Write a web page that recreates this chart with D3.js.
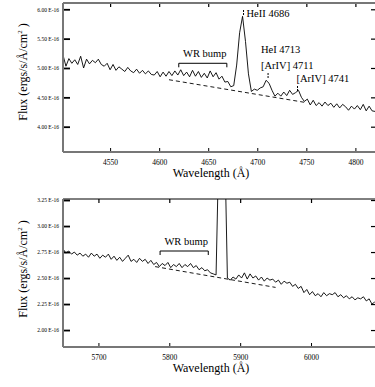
<!DOCTYPE html>
<html><head><meta charset="utf-8">
<script src="https://cdn.jsdelivr.net/npm/d3@7"></script>
<style>
html,body{margin:0;padding:0;background:#fff;}
svg{display:block;}
text{font-family:"Liberation Serif","Times New Roman",serif;fill:#000;}
</style></head>
<body>
<svg id="chart" width="375" height="387"></svg>
<script>
// ---------- DATA ----------
// Top panel: flux (1e-16 ergs/s/A/cm^2) sampled every 3 A starting at 4502 A
const topStart = 4502, topStep = 3;
const topFlux = [
 5.22,5.03,5.16,5.08,5.14,5.06,5.20,5.00,5.15,5.07,5.13,5.09,5.15,5.06,5.03,5.08,4.97,5.06,4.96,5.02,
 4.98,4.94,5.01,4.95,4.92,4.98,4.91,4.96,4.90,4.95,4.89,4.88,4.94,4.85,4.93,4.86,4.94,4.87,4.95,4.88,
 4.97,4.87,4.93,4.85,4.96,4.86,4.94,4.84,4.91,4.83,4.95,4.85,4.92,4.81,4.86,4.76,4.77,4.68,4.70,5.05,
 5.60,5.88,5.45,4.90,4.60,4.64,4.62,4.66,4.68,4.79,4.74,4.62,4.52,4.57,4.52,4.59,4.53,4.62,4.55,4.58,
 4.62,4.50,4.43,4.47,4.37,4.45,4.36,4.41,4.35,4.42,4.36,4.40,4.33,4.39,4.32,4.38,4.34,4.28,4.35,4.30,
 4.36,4.29,4.38,4.27,4.35,4.27,4.26
];
const topContinuum = [[4610, 4.80], [4750, 4.41]];
const topXTicks = [4550, 4600, 4650, 4700, 4750, 4800];
const topYTicks = [4.00, 4.50, 5.00, 5.50, 6.00];
const topLines = [
  {label: "HeII 4686", wl: 4686},
  {label: "HeI 4713", wl: null},
  {label: "[ArIV] 4711", wl: 4711},
  {label: "[ArIV] 4741", wl: 4741}
];
const topBump = [4620, 4669];

// Bottom panel: flux sampled every 4 A starting at 5650 A
const botStart = 5650, botStep = 4;
const botFlux = [
 2.78,2.74,2.76,2.73,2.75,2.72,2.74,2.71,2.73,2.70,2.74,2.71,2.73,2.69,2.72,2.70,2.73,2.68,2.71,2.67,
 2.70,2.66,2.69,2.72,2.66,2.68,2.65,2.69,2.66,2.68,2.64,2.67,2.63,2.65,2.61,2.64,2.62,2.65,2.60,2.63,
 2.61,2.64,2.60,2.63,2.61,2.64,2.60,2.62,2.58,2.60,2.57,2.58,2.55,2.54,2.53,3.80,4.05,3.90,2.50,2.48,
 2.51,2.49,2.53,2.50,2.55,2.49,2.54,2.50,2.52,2.48,2.51,2.47,2.50,2.48,2.49,2.46,2.48,2.44,2.47,2.45,
 2.46,2.42,2.44,2.40,2.42,2.36,2.39,2.34,2.37,2.33,2.35,2.32,2.36,2.33,2.35,2.34,2.36,2.32,2.34,2.31,
 2.33,2.30,2.32,2.29,2.31,2.30,2.32,2.28,2.30,2.25,2.27
];
const botContinuum = [[5780, 2.61], [5950, 2.41]];
const botXTicks = [5700, 5800, 5900, 6000];
const botYTicks = [2.00, 2.25, 2.50, 2.75, 3.00, 3.25];
const botBump = [5787, 5855];

// ---------- DRAW ----------
const svg = d3.select("#chart");
const fmtY = d => d3.format(".2f")(d) + " E-16";
const SERIF = '"Liberation Serif","Times New Roman",serif';

function cleanAxis(sel) {
  sel.attr("font-family", null).attr("font-size", null);
  sel.select(".domain").remove();
  sel.selectAll("text").style("font-family", SERIF).attr("fill", "#000");
}

function panel(cfg) {
  const g = svg.append("g");
  const x = d3.scaleLinear().domain(cfg.xDomain).range([63, 376]);
  const y = d3.scaleLinear().domain(cfg.yDomain).range([cfg.bottom, cfg.top]);
  const id = "clip" + cfg.name;
  svg.append("clipPath").attr("id", id).append("rect")
    .attr("x", 63).attr("y", cfg.top).attr("width", 313).attr("height", cfg.bottom - cfg.top);

  const pts = cfg.flux.map((f, i) => [cfg.start + i * cfg.step, f]);
  const line = d3.line().x(d => x(d[0])).y(d => y(d[1]));
  g.append("path").datum(pts).attr("d", line).attr("clip-path", `url(#${id})`)
    .attr("fill", "none").attr("stroke", "#000").attr("stroke-width", 0.9)
    .attr("stroke-linejoin", "round");
  g.append("path").datum(cfg.continuum).attr("d", line)
    .attr("fill", "none").attr("stroke", "#000").attr("stroke-width", 0.9)
    .attr("stroke-dasharray", "4,3");

  // x axis bottom
  const xa = g.append("g").attr("transform", `translate(0,${cfg.bottom})`)
    .call(d3.axisBottom(x).tickValues(cfg.xTicks).tickSize(-4).tickPadding(8).tickFormat(d3.format("d")));
  cleanAxis(xa);
  xa.selectAll("line").attr("stroke", "#000").attr("stroke-width", 1);
  xa.selectAll("text").style("font-size", "7.5px");
  // x ticks top
  const xt = g.append("g").attr("transform", `translate(0,${cfg.top})`)
    .call(d3.axisTop(x).tickValues(cfg.xTicks).tickSize(-4).tickFormat(""));
  cleanAxis(xt);
  xt.selectAll("line").attr("stroke", "#000").attr("stroke-width", 1.2);

  // y axis left
  const ya = g.append("g").attr("transform", `translate(63,0)`)
    .call(d3.axisLeft(y).tickValues(cfg.yTicks).tickSize(-7).tickPadding(4).tickFormat(fmtY));
  cleanAxis(ya);
  ya.selectAll("line").attr("stroke", "#000").attr("stroke-width", 1.8);
  ya.selectAll("text").style("font-size", "5.5px");
  // y ticks right
  const yr = g.append("g").attr("transform", `translate(376,0)`)
    .call(d3.axisRight(y).tickValues(cfg.yTicks).tickSize(-5).tickFormat(""));
  cleanAxis(yr);
  yr.selectAll("line").attr("stroke", "#000").attr("stroke-width", 1.2);

  // frame
  g.append("line").attr("x1", 63).attr("x2", 376).attr("y1", cfg.top).attr("y2", cfg.top)
    .attr("stroke", cfg.topColor).attr("stroke-width", cfg.topWidth);
  g.append("line").attr("x1", 63).attr("x2", 63).attr("y1", cfg.top).attr("y2", cfg.bottom)
    .attr("stroke", "#777").attr("stroke-width", 2);
  g.append("line").attr("x1", 63).attr("x2", 376).attr("y1", cfg.bottom).attr("y2", cfg.bottom)
    .attr("stroke", "#777").attr("stroke-width", 2);

  // axis titles
  g.append("text").attr("x", 211).attr("y", cfg.bottom + 25)
    .attr("text-anchor", "middle").style("font-size", "12px").text("Wavelength (Å)");
  const yt = g.append("text").attr("transform", `translate(27,${cfg.yTitleY}) rotate(-90)`)
    .attr("text-anchor", "middle").style("font-size", "12px");
  yt.append("tspan").text("Flux (ergs/s/Å/cm");
  yt.append("tspan").attr("dy", -5).style("font-size", "7px").text("2");
  yt.append("tspan").attr("dy", 5).text(" )");

  // WR bump bracket
  const b = cfg.bump, by = y(cfg.bumpY);
  g.append("path")
    .attr("d", `M${x(b[0])},${by + 4}V${by}H${x(b[1])}V${by + 4}`)
    .attr("fill", "none").attr("stroke", "#000").attr("stroke-width", 1);
  g.append("text").attr("x", (x(b[0]) + x(b[1])) / 2 + 2).attr("y", by - 6)
    .attr("text-anchor", "middle").style("font-size", "10.5px").text("WR bump");
  return {g, x, y};
}

const T = panel({name: "t", xDomain: [topStart, 4821], yDomain: [3.569, 6.107], top: 3, bottom: 152,
  flux: topFlux, start: topStart, step: topStep, continuum: topContinuum,
  xTicks: topXTicks, yTicks: topYTicks, topColor: "#777", topWidth: 2, yTitleY: 72,
  bump: topBump, bumpY: 5.08});
const B = panel({name: "b", xDomain: [botStart, 6091.7], yDomain: [1.837, 3.26], top: 199, bottom: 347,
  flux: botFlux, start: botStart, step: botStep, continuum: botContinuum,
  xTicks: botXTicks, yTicks: botYTicks, topColor: "#000", topWidth: 1, yTitleY: 269,
  bump: botBump, bumpY: 2.76});

// top panel line labels
const ann = T.g;
function mark(wl, y1, y2) {
  ann.append("line").attr("x1", T.x(wl)).attr("x2", T.x(wl)).attr("y1", y1).attr("y2", y2)
    .attr("stroke", "#000").attr("stroke-width", 1).attr("stroke-dasharray", "2,1");
}
mark(topLines[0].wl, 10, 16);
ann.append("text").attr("x", T.x(topLines[0].wl) + 3).attr("y", 17).style("font-size", "10.5px").text(topLines[0].label);
ann.append("text").attr("x", 261).attr("y", 53).style("font-size", "10.5px").text(topLines[1].label);
ann.append("text").attr("x", 261).attr("y", 69).style("font-size", "10.5px").text(topLines[2].label);
mark(topLines[2].wl, 73, 78);
ann.append("text").attr("x", T.x(topLines[3].wl) - 1).attr("y", 82).style("font-size", "10.5px").text(topLines[3].label);
mark(topLines[3].wl, 86, 91);
</script>
</body></html>
